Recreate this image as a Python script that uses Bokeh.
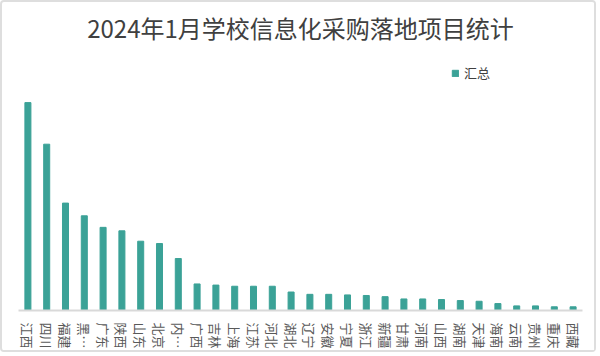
from bokeh.plotting import figure
from bokeh.models import ColumnDataSource, Range1d, Legend, LegendItem
from bokeh.embed import file_html
from bokeh.resources import INLINE

title_text = "2024年1月学校信息化采购落地项目统计"
series_name = "汇总"
provinces = ["江西", "四川", "福建", "黑…", "广东", "陕西", "山东", "北京", "内…", "广西",
             "吉林", "上海", "江苏", "河北", "湖北", "辽宁", "安徽", "宁夏", "浙江", "新疆",
             "甘肃", "河南", "山西", "湖南", "天津", "海南", "云南", "贵州", "重庆", "西藏"]
counts = [180, 144, 93, 82, 72, 69, 60, 58, 45, 23,
          22, 21, 21, 21, 16, 14, 14, 13.5, 13, 12,
          10, 10, 9.5, 8.6, 8, 6, 4, 4, 3.2, 3.2]

FONT = "Noto Sans CJK SC"
BAR = "#3BA297"

src = ColumnDataSource(dict(x=provinces, y=counts))

p = figure(width=596, height=352, x_range=provinces, y_range=Range1d(0, 226),
           output_backend="svg", toolbar_location=None,
           min_border_left=16, min_border_right=16, min_border_bottom=44, min_border_top=34)
p.styles = {"border": "2px solid #dedede", "border-radius": "4px"}
p.title.text = title_text
p.title.align = "center"
p.title.text_font = FONT
p.title.text_font_size = "24px"
p.title.text_font_style = "normal"
p.title.text_color = "#404040"

r = p.vbar(x="x", top="y", width=0.32, source=src, color=BAR)

p.yaxis.visible = False
p.xgrid.visible = False
p.ygrid.visible = False
p.outline_line_color = None
p.x_range.range_padding = 0
p.xaxis.axis_line_color = "#d9d9d9"
p.xaxis.axis_line_width = 2
p.xaxis.major_tick_line_color = None
p.xaxis.minor_tick_line_color = None
p.xaxis.major_label_orientation = "vertical"
p.xaxis.major_label_text_font = FONT
p.xaxis.major_label_text_font_size = "13px"
p.xaxis.major_label_text_color = "#595959"
p.xaxis.major_label_standoff = 6

legend = Legend(items=[LegendItem(label=series_name, renderers=[r])],
                location=(433, 228), orientation="horizontal",
                glyph_width=8, glyph_height=8, label_height=14, label_standoff=5,
                padding=0, margin=0, spacing=0, border_line_color=None,
                background_fill_alpha=0,
                label_text_font=FONT, label_text_font_size="13px", label_text_color="#404040")
p.add_layout(legend, "center")

open("out.html", "w").write(file_html(p, INLINE))
